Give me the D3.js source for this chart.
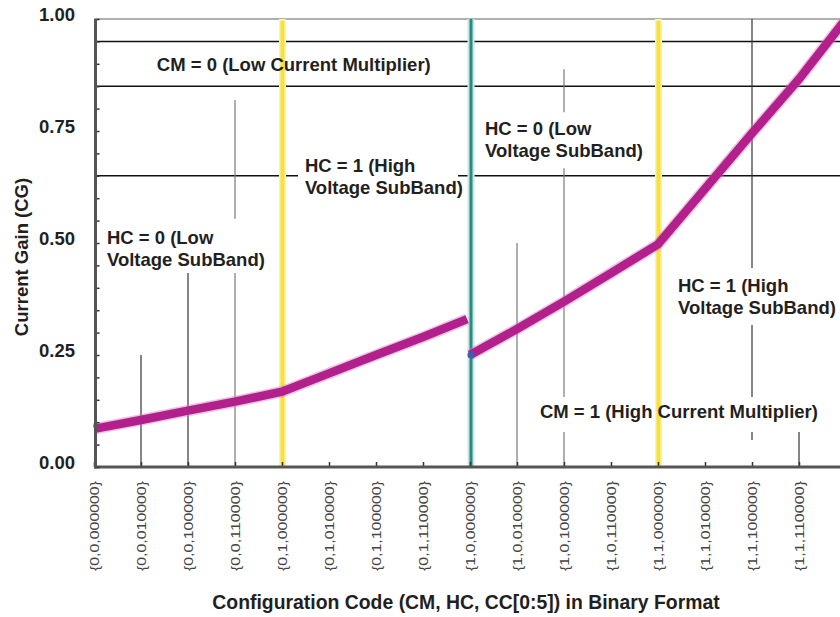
<!DOCTYPE html>
<html>
<head>
<meta charset="utf-8">
<script src="https://cdn.jsdelivr.net/npm/d3@7"></script>
<style>
  body { margin: 0; background: #fff; }
  svg { display: block; }
  text { font-family: "Liberation Sans", Arial, Helvetica, sans-serif; fill: #231f20; }
</style>
</head>
<body>
<div id="chart"></div>
<script>
// configuration code index = CM*128 + HC*64 + CC
const tickCodes = [0, 16, 32, 48, 64, 80, 96, 112, 128, 144, 160, 176, 192, 208, 224, 240];
const tickLabels = ["{0,0,000000}", "{0,0,010000}", "{0,0,100000}", "{0,0,110000}",
    "{0,1,000000}", "{0,1,010000}", "{0,1,100000}", "{0,1,110000}",
    "{1,0,000000}", "{1,0,010000}", "{1,0,100000}", "{1,0,110000}",
    "{1,1,000000}", "{1,1,010000}", "{1,1,100000}", "{1,1,110000}"];
const yTicks = [0, 0.25, 0.5, 0.75, 1.0];

// CM = 0 curve (low current multiplier)
const lowCodes = [0, 16, 32, 48, 64, 80, 96, 112, 127];
const lowGain = [0.085, 0.105, 0.126, 0.146, 0.168, 0.209, 0.250, 0.290, 0.330];
// CM = 1 curve (high current multiplier)
const highCodes = [128, 144, 160, 176, 192, 208, 224, 240, 255];
const highGain = [0.250, 0.308, 0.369, 0.433, 0.497, 0.621, 0.745, 0.866, 0.992];

const refGains = [0.95, 0.85, 0.65];
const bandCodes = [64, 128, 192];

// thin leader lines: [code, from gain, to gain]
const leaders = [
    [16, 0, 0.25], [32, 0, 0.433], [48, 0, 0.433], [48, 0.554, 0.819],
    [144, 0, 0.5], [160, 0, 0.078], [160, 0.156, 0.667], [160, 0.792, 0.888],
    [224, 0.444, 1.0], [224, 0.156, 0.317], [224, 0.06, 0.078], [240, 0, 0.078]
];

// annotations: [code, gain (first baseline), lines]
const notes = [
    [21.4, 0.883, ["CM = 0 (Low Current Multiplier)"]],
    [71.8, 0.658, ["HC = 1 (High", "Voltage SubBand)"]],
    [133.1, 0.741, ["HC = 0 (Low", "Voltage SubBand)"]],
    [4.4, 0.498, ["HC = 0 (Low", "Voltage SubBand)"]],
    [198.8, 0.390, ["HC = 1 (High", "Voltage SubBand)"]],
    [151.8, 0.109, ["CM = 1 (High Current Multiplier)"]]
];

const width = 840, height = 617;
const svg = d3.select("#chart").append("svg")
    .attr("width", width).attr("height", height);

const x = d3.scaleLinear().domain([0, 256]).range([94, 846]);
const y = d3.scaleLinear().domain([0, 1]).range([467, 19]);
const right = 840;

// top border
svg.append("line")
    .attr("x1", x(0)).attr("x2", right).attr("y1", y(1)).attr("y2", y(1))
    .attr("stroke", "#b0b0b0").attr("stroke-width", 2);

// horizontal reference lines (0.65 has a gap for text)
refGains.forEach(g => {
    const segs = g === 0.65 ? [[x(0), 298], [458, right]] : [[x(0), right]];
    segs.forEach(s => {
        svg.append("line").attr("x1", s[0]).attr("x2", s[1]).attr("y1", y(g)).attr("y2", y(g))
            .attr("stroke", "#111").attr("stroke-width", 1.5);
    });
});

// leader lines
leaders.forEach(l => {
    svg.append("line")
        .attr("x1", x(l[0])).attr("x2", x(l[0]))
        .attr("y1", y(l[1])).attr("y2", y(l[2]))
        .attr("stroke", l[0] === 48 || l[0] === 144 || l[0] === 160 ? "#7a7a7a" : "#333")
        .attr("stroke-width", 1.2);
});

// band boundaries
bandCodes.forEach(c => {
    const teal = c === 128;
    const xx = x(c) + (teal ? 1 : 0.5);
    svg.append("line").attr("x1", xx).attr("x2", xx).attr("y1", y(1)).attr("y2", y(0))
        .attr("stroke", teal ? "#c9e6e2" : "#fbf2b0").attr("stroke-width", 7);
    svg.append("line").attr("x1", xx).attr("x2", xx).attr("y1", y(1) + (teal ? 0 : 2)).attr("y2", y(0) - (teal ? 0 : 2))
        .attr("stroke", teal ? "#2b8a84" : "#f6e23a").attr("stroke-width", teal ? 3 : 4);
});

// curves
const line = d3.line().x(d => x(d[0])).y(d => y(d[1]));
const lowPts = lowCodes.map((c, i) => [c, lowGain[i]]);
const highPts = highCodes.map((c, i) => [c, highGain[i]]);
[lowPts, highPts].forEach(pts => {
    svg.append("path").attr("d", line(pts)).attr("fill", "none")
        .attr("stroke", "#d67cc0").attr("stroke-width", 11.5).attr("stroke-opacity", 0.45);
    svg.append("path").attr("d", line(pts)).attr("fill", "none")
        .attr("stroke", "#b2208c").attr("stroke-width", 8.5);
});
// small blue marker at start of CM=1 curve
svg.append("circle").attr("cx", x(128) + 1).attr("cy", y(highGain[0]))
    .attr("r", 3.5).attr("fill", "#3a5fb0");

// axes
const xAxis = d3.axisBottom(x).tickValues(tickCodes).tickSize(-5).tickFormat("");
const gx = svg.append("g").attr("transform", `translate(0,${y(0)})`).call(xAxis);
gx.select(".domain").remove();
gx.selectAll(".tick line").attr("stroke", "#333").attr("stroke-width", 1.5);
svg.append("line").attr("x1", x(0)).attr("x2", right).attr("y1", y(0)).attr("y2", y(0))
    .attr("stroke", "#555").attr("stroke-width", 3);

const yAxis = d3.axisLeft(y).tickValues(d3.range(0, 1.001, 0.05)).tickSize(-4).tickFormat("");
const gy = svg.append("g").attr("transform", `translate(${x(0) + 1.5},0)`).call(yAxis);
gy.select(".domain").remove();
gy.selectAll(".tick line").attr("stroke", "#333").attr("stroke-width", 1.5);
svg.append("line").attr("x1", x(0) + 1.5).attr("x2", x(0) + 1.5).attr("y1", y(1)).attr("y2", y(0) + 1.5)
    .attr("stroke", "#555").attr("stroke-width", 3);

// y tick labels
svg.selectAll(".ylab").data(yTicks).join("text")
    .attr("x", 75).attr("y", d => y(d) + 2)
    .attr("text-anchor", "end")
    .style("font-size", "18.5px").style("font-weight", "bold")
    .text(d => d.toFixed(2));

// x tick labels
svg.selectAll(".xlab").data(tickCodes).join("text")
    .attr("transform", d => `translate(${x(d) + 4.5},481) rotate(-90)`)
    .attr("text-anchor", "end")
    .attr("textLength", 90).attr("lengthAdjust", "spacingAndGlyphs")
    .style("font-size", "12.5px").style("fill", "#444")
    .text((d, i) => tickLabels[i]);

// annotations
notes.forEach(n => {
    const t = svg.append("text").attr("x", x(n[0])).attr("y", y(n[1]))
        .style("font-size", "18.5px").style("font-weight", "bold");
    n[2].forEach((s, i) => {
        t.append("tspan").attr("x", x(n[0])).attr("dy", i === 0 ? 0 : 22).text(s);
    });
});

// axis titles
svg.append("text").attr("x", 466).attr("y", 609).attr("text-anchor", "middle")
    .style("font-size", "19.4px").style("font-weight", "bold")
    .text("Configuration Code (CM, HC, CC[0:5]) in Binary Format");
svg.append("text").attr("transform", "translate(28,257) rotate(-90)").attr("text-anchor", "middle")
    .style("font-size", "18.5px").style("font-weight", "bold")
    .text("Current Gain (CG)");
</script>
</body>
</html>
